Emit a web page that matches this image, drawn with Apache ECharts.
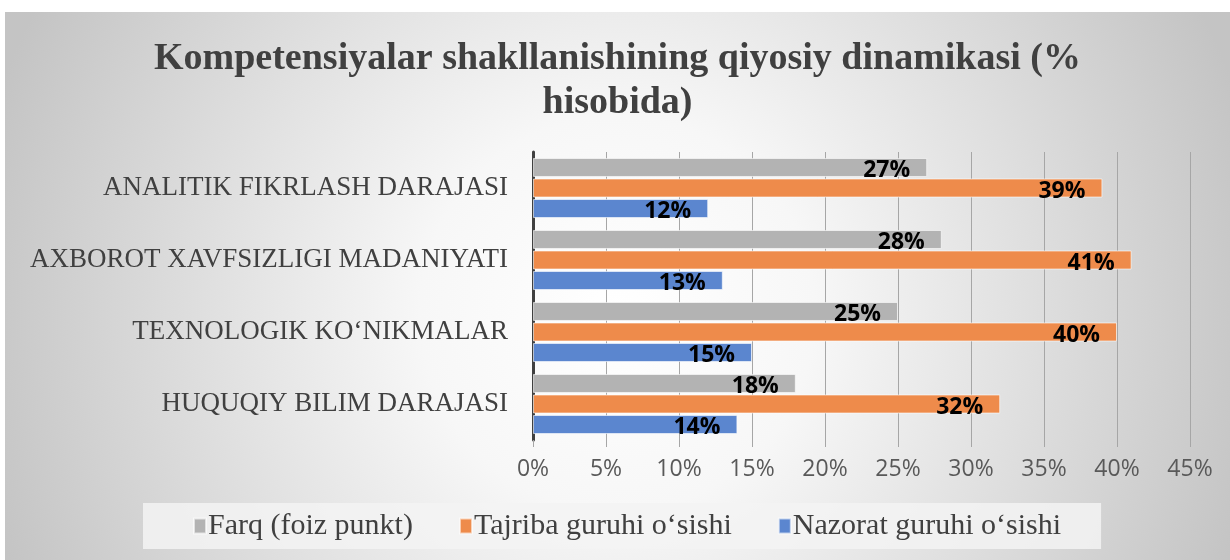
<!DOCTYPE html>
<html>
<head>
<meta charset="utf-8">
<script src="https://cdn.jsdelivr.net/npm/echarts@6/dist/echarts.min.js"></script>
<style>
html,body{margin:0;padding:0;background:#fff;width:1230px;height:560px;overflow:hidden;}
#c{position:absolute;left:5px;top:12px;width:1225px;height:548px;}
</style>
</head>
<body>
<div id="c"></div>
<script>
const categories = ['HUQUQIY BILIM DARAJASI', 'TEXNOLOGIK KO\u2018NIKMALAR', 'AXBOROT XAVFSIZLIGI MADANIYATI', 'ANALITIK FIKRLASH DARAJASI'];
const farq = [18, 25, 28, 27];
const tajriba = [32, 40, 41, 39];
const nazorat = [14, 15, 13, 12];
const seriesNames = ['Farq (foiz punkt)', 'Tajriba guruhi o\u2018sishi', 'Nazorat guruhi o\u2018sishi'];
const titleText = 'Kompetensiyalar shakllanishining qiyosiy dinamikasi (%\nhisobida)';

const chart = echarts.init(document.getElementById('c'));
const labelCfg = {
  show: true, position: 'insideRight', distance: 17, offset: [0, 3],
  formatter: p => p.value + '%',
  color: '#000', fontFamily: 'Open Sans', fontWeight: 'bold', fontSize: 23
};
function mk(name, data, color) {
  return {
    name: name, type: 'bar', data: data, barWidth: 19, barGap: '8%',
    itemStyle: { color: color, borderColor: 'rgba(255,255,255,0.6)', borderWidth: 1 },
    label: labelCfg
  };
}
chart.setOption({
  backgroundColor: {
    type: 'radial', x: 0.5, y: 0.55, r: 1.2,
    colorStops: [{ offset: 0, color: '#ffffff' }, { offset: 0.3, color: '#f7f7f7' }, { offset: 1, color: '#c4c4c4' }]
  },
  title: {
    text: titleText, left: 'center', top: 20,
    textStyle: { fontFamily: 'Liberation Serif', fontWeight: 'bold', fontSize: 38, color: '#404040', lineHeight: 44 }
  },
  legend: {
    data: seriesNames, left: 138, top: 491, itemWidth: 12, itemHeight: 15, itemGap: 46,
    icon: 'rect', backgroundColor: 'rgba(243,243,243,0.85)', padding: [8, 40, 8, 50],
    textStyle: { fontFamily: 'Liberation Serif', fontSize: 30, color: '#404040', padding: [0, 0, 0, -3] }
  },
  grid: { left: 528, right: 40, top: 140, bottom: 120 },
  xAxis: {
    type: 'value', min: 0, max: 45, interval: 5,
    axisLabel: { formatter: v => v + '%', fontFamily: 'Open Sans', fontSize: 23, color: '#595959', margin: 18 },
    axisLine: { show: false },
    axisTick: { show: true, length: 7, lineStyle: { color: '#a6a6a6' } },
    splitLine: { show: true, lineStyle: { color: '#a6a6a6', width: 1 } }
  },
  yAxis: {
    type: 'category', data: categories,
    axisLine: { show: true, lineStyle: { color: '#404040', width: 3 } },
    axisTick: { show: false },
    axisLabel: { fontFamily: 'Liberation Serif', fontSize: 27, color: '#404040', margin: 25 }
  },
  series: [
    mk(seriesNames[0], farq, '#B3B3B3'),
    mk(seriesNames[1], tajriba, '#EE8B4B'),
    mk(seriesNames[2], nazorat, '#5B86CF')
  ]
});
</script>
</body>
</html>
